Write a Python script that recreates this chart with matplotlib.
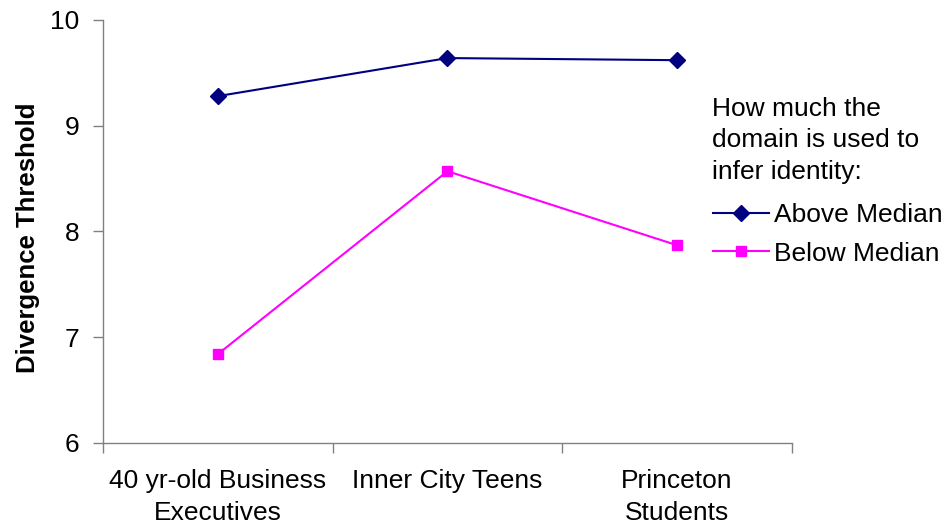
import matplotlib.pyplot as plt

groups = ['40 yr-old Business\nExecutives', 'Inner City Teens', 'Princeton\nStudents']
above_median = [9.28, 9.64, 9.62]
below_median = [6.84, 8.57, 7.87]

plt.rcParams['font.family'] = ['Liberation Sans', 'DejaVu Sans']

fig = plt.figure(figsize=(9.45, 5.29), dpi=100)
ax = fig.add_axes([0.109, 0.1626, 0.729, 0.7996])

x = list(range(len(groups)))
ax.plot(x, above_median, color='#000080', lw=1.5, marker='D', markersize=8,
        label='Above Median')
ax.plot(x, below_median, color='#FF00FF', lw=1.5, marker='s', markersize=7.5,
        label='Below Median')

ax.set_xlim(-0.5, len(groups) - 0.5)
ax.set_ylim(6, 10)
ax.set_yticks([6, 7, 8, 9, 10])

# category labels centred, tick marks between categories
ax.set_xticks(x)
ax.set_xticklabels(groups, fontsize=19, linespacing=1.4)
ax.set_xticks([i - 0.5 for i in range(len(groups) + 1)], minor=True)
ax.tick_params(axis='x', which='major', length=0, pad=19)
ax.tick_params(axis='x', which='minor', length=7, width=1, color='#808080', direction='out')
ax.tick_params(axis='y', length=7, width=1, color='#808080', labelsize=19, pad=10)

for side in ('top', 'right'):
    ax.spines[side].set_visible(False)
for side in ('left', 'bottom'):
    ax.spines[side].set_color('#808080')
    ax.spines[side].set_linewidth(1)

ax.set_ylabel('Divergence Threshold', fontsize=18.5, fontweight='bold')
ax.yaxis.set_label_coords(-0.092, 0.485)

fig.text(0.753, 0.735, 'How much the\ndomain is used to\ninfer identity:',
         fontsize=19, ha='left', va='center', linespacing=1.4)
leg = fig.legend(loc='upper left', bbox_to_anchor=(0.755, 0.616), frameon=False,
                 fontsize=19, handlelength=2.1, handletextpad=0.2, labelspacing=0.55,
                 borderaxespad=0, borderpad=0)

fig.savefig('out.png', dpi=100)
